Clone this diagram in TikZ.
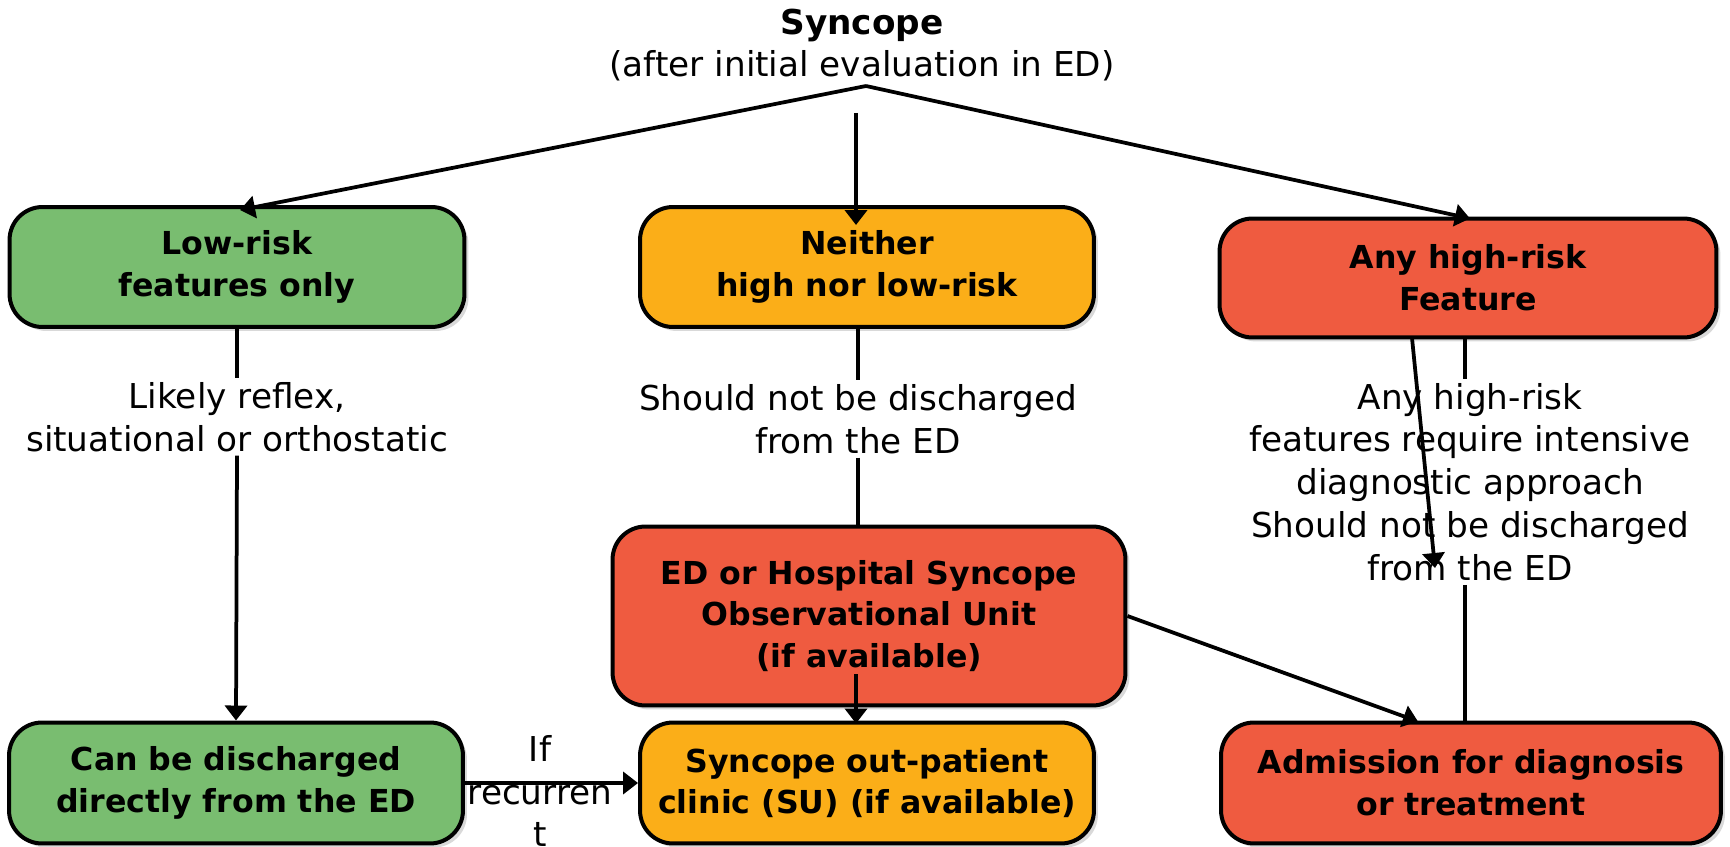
\documentclass[tikz,border=0pt]{standalone}
\usepackage{fontspec}
\setmainfont{DejaVu Sans}
\usetikzlibrary{arrows.meta,calc,shadows}
\definecolor{lowGreen}{RGB}{121,189,112}
\definecolor{midOrange}{RGB}{251,174,24}
\definecolor{highRed}{RGB}{239,91,64}
\tikzset{
  riskBox/.style={rectangle, draw=black, line width=0.08cm, rounded corners=0.66cm, align=center,
    font=\fontsize{18}{23.8}\selectfont\bfseries,
    drop shadow={shadow xshift=0.08cm, shadow yshift=-0.08cm, opacity=0.3}},
  noteText/.style={align=center, inner sep=2pt, font=\fontsize{19.5}{24.4}\selectfont},
  flowLine/.style={line width=0.075cm},
  flowArrow/.style={flowLine, -{Triangle[length=0.3cm, width=0.44cm]}},
}
\begin{document}
\begin{tikzpicture}[x=0.02cm, y=-0.02cm]
	\useasboundingbox (0,0) rectangle (1730,847);

	\node[noteText](syncTitle) at (862,45){\textbf{Syncope}\\(after initial evaluation in ED)};
	\coordinate(apex) at (866,86);
	\coordinate(vTop) at (856,113);

	\node[riskBox, fill=lowGreen, minimum width=9.1cm, minimum height=2.4cm](lowRisk) at (237,267){Low-risk\\features only};
	\node[riskBox, fill=midOrange, minimum width=9.08cm, minimum height=2.4cm](neitherRisk) at (867,267){Neither\\high nor low-risk};
	\node[riskBox, fill=highRed, minimum width=9.94cm, minimum height=2.38cm](highRisk) at (1468,278){Any high-risk\\Feature};

	\node[riskBox, fill=highRed, minimum width=10.26cm, minimum height=3.58cm](obsUnit) at (869,616){ED or Hospital Syncope\\Observational Unit\\(if available)};

	\node[riskBox, fill=lowGreen, minimum width=9.08cm, minimum height=2.42cm](dischargeED) at (236,783){Can be discharged\\directly from the ED};
	\node[riskBox, fill=midOrange, minimum width=9.08cm, minimum height=2.42cm](outClinic) at (867,783){Syncope out-patient\\clinic (SU) (if available)};
	\node[riskBox, fill=highRed, minimum width=10cm, minimum height=2.42cm](admitHosp) at (1471,783){Admission for diagnosis\\or treatment};

	\node[noteText](lowLbl) at (237,417){Likely reflex,\\situational or orthostatic};
	\node[noteText](neitherLbl) at (858,419){Should not be discharged\\from the ED};
	\node[noteText](highLbl) at (1470,482){Any high-risk\\features require intensive\\diagnostic approach\\Should not be discharged\\from the ED};
	\node[noteText, inner sep=0pt](recurLbl) at (540,791){If\\recurren\\t};

	\coordinate(slantTop) at (1412,338);
	\coordinate(slantEnd) at (1435,568);

	\draw[flowArrow](apex) -- ($(lowRisk.north)+(3,5)$);
	\draw[flowArrow](apex) -- ($(highRisk.north)+(2,2)$);
	\draw[flowArrow](vTop) -- ($(neitherRisk.north)+(-11,20)$);

	\draw[flowLine](lowRisk.south) -- (lowLbl.north);
	\draw[flowArrow](lowLbl.south) -- (dischargeED.north);

	\draw[flowLine](neitherRisk.south -| neitherLbl.north) -- (neitherLbl.north);
	\draw[flowLine](neitherLbl.south) -- (neitherLbl.south |- obsUnit.north);

	\draw[flowLine]($(highRisk.south)+(-3,0)$) -- ($(highLbl.north)+(-5,0)$);
	\draw[flowLine]($(highLbl.south)+(-5,0)$) -- ($(admitHosp.north)+(-6,0)$);
	\draw[flowArrow](slantTop) -- (slantEnd);

	\draw[flowArrow]($(obsUnit.south)+(-13,-33)$) -- ($(outClinic.north)+(-11,3)$);
	\draw[flowArrow](obsUnit.east) -- ($(admitHosp.north)+(-53,1)$);
	\draw[flowArrow](dischargeED.east) -- (outClinic.west);

\end{tikzpicture}
\end{document}
